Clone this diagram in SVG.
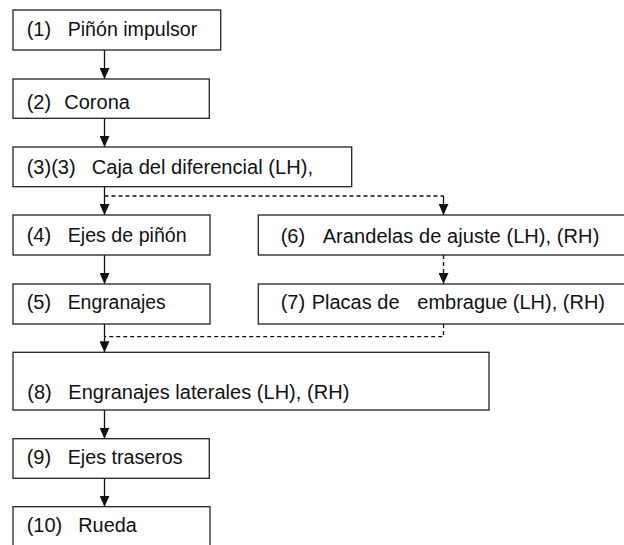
<svg xmlns="http://www.w3.org/2000/svg" width="624" height="545" viewBox="0 0 624 545">
  <style>
    .box { fill: #ffffff; stroke: #222222; stroke-width: 1.3; }
    .lbl { font-family: "Liberation Sans", Arial, sans-serif; font-size: 20px; fill: #111111; }
    .solid { fill: none; stroke: #111111; stroke-width: 1.3; }
    .dash { fill: none; stroke: #111111; stroke-width: 1.3; stroke-dasharray: 4 3; }
  </style>
  <defs>
    <marker id="arrow" markerUnits="userSpaceOnUse" markerWidth="11" markerHeight="10" refX="11" refY="5" orient="auto">
      <path d="M0,0 L11,5 L0,10 z" fill="#111111"/>
    </marker>
  </defs>
  <rect width="624" height="545" fill="#ffffff"/>

  <!-- connectors -->
  <g id="connectors">
    <path class="solid" d="M104.5,50 V79" marker-end="url(#arrow)"/>
    <path class="solid" d="M104.5,118.3 V147" marker-end="url(#arrow)"/>
    <path class="solid" d="M104.5,186.7 V215" marker-end="url(#arrow)"/>
    <path class="dash" d="M104.5,196 H443.5"/>
    <path class="solid" d="M443.5,196 V215" marker-end="url(#arrow)"/>
    <path class="solid" d="M104.5,255 V284" marker-end="url(#arrow)"/>
    <path class="dash" d="M443.5,255 V284" marker-end="url(#arrow)"/>
    <path class="dash" d="M443.5,324 V336.7 H104.5"/>
    <path class="solid" d="M104.5,324 V352.3" marker-end="url(#arrow)"/>
    <path class="solid" d="M104.5,410 V438.7" marker-end="url(#arrow)"/>
    <path class="solid" d="M104.5,478.3 V506.7" marker-end="url(#arrow)"/>
  </g>

  <g id="n1">
    <rect class="box" x="13" y="10" width="207.7" height="40"/>
    <text class="lbl" x="26.7" y="36">(1)</text>
    <text class="lbl" x="67.7" y="36" textLength="129.6" lengthAdjust="spacingAndGlyphs">Piñón impulsor</text>
  </g>
  <g id="n2">
    <rect class="box" x="13" y="79" width="196.3" height="39.3"/>
    <text class="lbl" x="26.7" y="109">(2)</text>
    <text class="lbl" x="64.3" y="109">Corona</text>
  </g>
  <g id="n3">
    <rect class="box" x="13" y="147" width="338.7" height="39.7"/>
    <text class="lbl" x="26.7" y="174">(3)(3)</text>
    <text class="lbl" x="91.7" y="174" textLength="221.3" lengthAdjust="spacingAndGlyphs">Caja del diferencial (LH),</text>
  </g>
  <g id="n4">
    <rect class="box" x="13" y="215" width="197" height="40"/>
    <text class="lbl" x="26.7" y="242">(4)</text>
    <text class="lbl" x="67.7" y="242" textLength="119" lengthAdjust="spacingAndGlyphs">Ejes de piñón</text>
  </g>
  <g id="n5">
    <rect class="box" x="13" y="284" width="197" height="40"/>
    <text class="lbl" x="26.7" y="309.3">(5)</text>
    <text class="lbl" x="67.7" y="309.3" textLength="98" lengthAdjust="spacingAndGlyphs">Engranajes</text>
  </g>
  <g id="n6">
    <rect class="box" x="258.3" y="215" width="372" height="40"/>
    <text class="lbl" x="280.7" y="242.5">(6)</text>
    <text class="lbl" x="322.7" y="242.5" textLength="276.6" lengthAdjust="spacing">Arandelas de ajuste (LH), (RH)</text>
  </g>
  <g id="n7">
    <rect class="box" x="258.3" y="284" width="372" height="40"/>
    <text class="lbl" x="280.7" y="309.3">(7)</text>
    <text class="lbl" x="311.7" y="309.3">Placas de</text>
    <text class="lbl" x="417.3" y="309.3" textLength="187.7" lengthAdjust="spacing">embrague (LH), (RH)</text>
  </g>
  <g id="n8">
    <rect class="box" x="13" y="352.3" width="476" height="57.7"/>
    <text class="lbl" x="27.3" y="399">(8)</text>
    <text class="lbl" x="68.3" y="399" textLength="281" lengthAdjust="spacing">Engranajes laterales (LH), (RH)</text>
  </g>
  <g id="n9">
    <rect class="box" x="13" y="438.7" width="196.3" height="39.6"/>
    <text class="lbl" x="26.7" y="464">(9)</text>
    <text class="lbl" x="67.7" y="464" textLength="115" lengthAdjust="spacingAndGlyphs">Ejes traseros</text>
  </g>
  <g id="n10">
    <rect class="box" x="13" y="506.7" width="197" height="60"/>
    <text class="lbl" x="26.7" y="532.3">(10)</text>
    <text class="lbl" x="78.3" y="532.3" textLength="58.4" lengthAdjust="spacingAndGlyphs">Rueda</text>
  </g>
</svg>
